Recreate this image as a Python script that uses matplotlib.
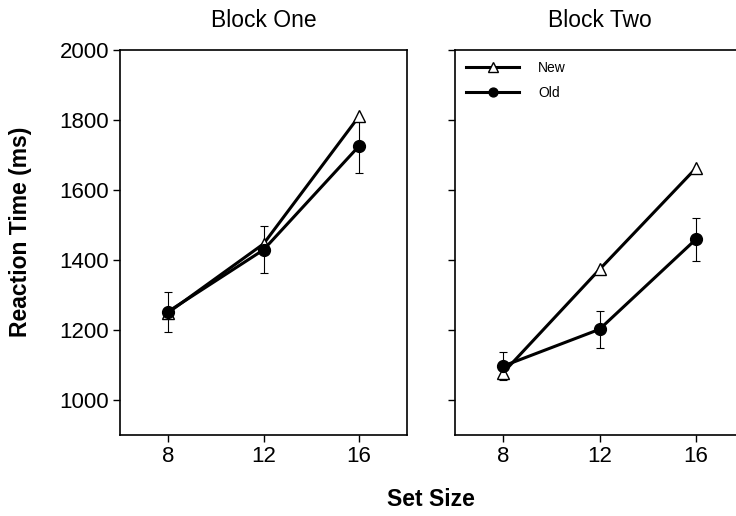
import matplotlib
matplotlib.use("Agg")
import matplotlib.pyplot as plt

plt.rcParams['font.family'] = ['Liberation Sans', 'DejaVu Sans']

set_sizes = [8, 12, 16]
block_titles = ["Block One", "Block Two"]
new_rt = [[1249, 1446, 1811], [1078, 1373, 1662]]
old_rt = [[1252, 1429, 1726], [1097, 1202, 1459]]
old_err = [[58, 67, 78], [40, 52, 62]]
y_ticks = [1000, 1200, 1400, 1600, 1800, 2000]
x_ticks = [8, 12, 16]

fig = plt.figure(figsize=(7.36, 5.16), dpi=100)
W, H = 736, 516
positions = [(120, 50, 407, 435), (455, 50, 744, 435)]

for i, (x0, y0, x1, y1) in enumerate(positions):
    ax = fig.add_axes([x0 / W, 1 - y1 / H, (x1 - x0) / W, (y1 - y0) / H])
    ax.errorbar(set_sizes, old_rt[i], yerr=old_err[i], fmt='none', ecolor='black',
                elinewidth=0.8, capsize=3, capthick=0.8, zorder=2)
    ax.plot(set_sizes, new_rt[i], color='black', lw=2.2, marker='^', ms=9,
            mfc='white', mec='black', mew=1.0, label='New', zorder=3)
    ax.plot(set_sizes, old_rt[i], color='black', lw=2.2, marker='o', ms=8.5,
            mfc='black', mec='black', label='Old', zorder=4)
    ax.set_xlim(6, 18)
    ax.set_ylim(900, 2000)
    ax.set_xticks(x_ticks)
    ax.set_yticks(y_ticks)
    ax.tick_params(direction='out', length=5, width=1, labelsize=16, pad=3)
    for s in ax.spines.values():
        s.set_linewidth(1.2)
    ax.set_title(block_titles[i], fontsize=16.5, pad=16.5)
    if i == 1:
        ax.set_yticklabels([])
        ax.legend(loc='upper left', frameon=False, fontsize=10,
                  handlelength=3.8, borderaxespad=0.3, labelspacing=0.75,
                  handletextpad=1.4, markerscale=0.75, borderpad=0.5)

fig.text(21 / W, 1 - 232 / H, "Reaction Time (ms)", fontsize=16.5, fontweight='bold',
         rotation=90, ha='center', va='center')
fig.text(431 / W, 1 - 500 / H, "Set Size", fontsize=16.5, fontweight='bold',
         ha='center', va='center')

fig.savefig("out.png", dpi=100)
